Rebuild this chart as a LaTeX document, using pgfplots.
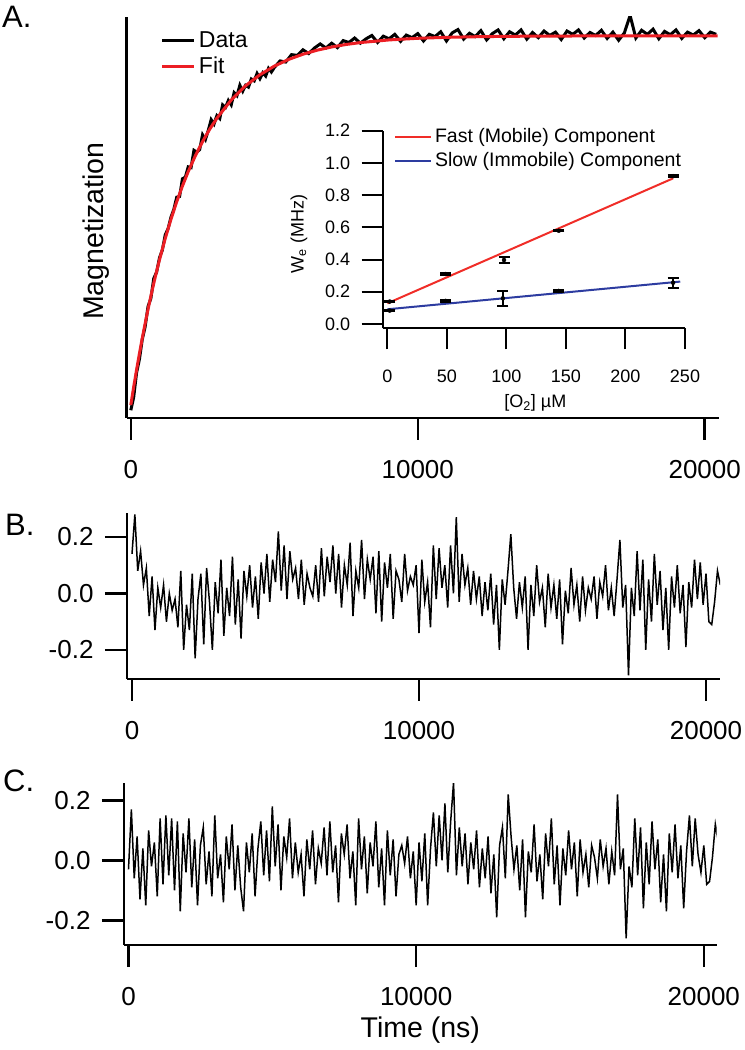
\documentclass[border=0pt]{standalone}
\usepackage{pgfplots}
\pgfplotsset{compat=1.18}
\usepackage{fontspec}
\setmainfont{Liberation Sans}
\definecolor{fitred}{RGB}{236,30,36}
\definecolor{lred}{RGB}{240,45,40}
\definecolor{lblue}{RGB}{45,60,160}
\newcommand\tickfont{\fontsize{26bp}{30bp}\selectfont}
\newcommand\labfont{\fontsize{28.5bp}{34bp}\selectfont}
\newcommand\legfont{\fontsize{23bp}{27bp}\selectfont}
\newcommand\insfont{\fontsize{18bp}{21bp}\selectfont}
\newcommand\inslegfont{\fontsize{19.5bp}{23bp}\selectfont}
\newcommand\letfont{\fontsize{31bp}{36bp}\selectfont}
\pgfplotsset{
  igor/.style={
    scale only axis,
    axis x line*=bottom, axis y line*=left,
    x axis line style={-, line width=2.5bp},
    y axis line style={-, line width=2.5bp},
    tick align=outside, major tick length=22bp,
    tick style={line width=2.5bp, black},
    tick label style={font=\tickfont},
    label style={font=\labfont},
    scaled x ticks=false, scaled y ticks=false,
    xticklabel shift=17bp, yticklabel shift=8bp,
  },
}
\begin{document}
\begin{tikzpicture}
\path[use as bounding box] (0,0) rectangle (745bp,1050bp);
% ---------------- Panel A ----------------
\begin{axis}[igor,
  at={(126.5bp,632bp)}, anchor=south west,
  width=592bp, height=401bp,
  xmin=-150, xmax=20480, ymin=-0.035, ymax=1.051,
  xtick={0,10000,20000}, xticklabels={0,10000,20000},
  ytick=\empty,
  ylabel={Magnetization},
  ylabel style={at={(axis description cs:-0.051,0.466)}, anchor=center},
  legend style={at={(axis description cs:0.052,0.975)}, anchor=north west,
    draw=none, fill=none, font=\legfont, row sep=3bp,
    nodes={inner ysep=1bp, inner xsep=3bp, text height=17bp, text depth=4bp}},
  legend cell align=left,
  legend image code/.code={\draw[#1, line width=3.5bp] (0bp,0bp) -- (32bp,0bp);},
]
\addplot[black, line width=3bp] coordinates {
(0,-0.014) (100,0.021) (200,0.087) (300,0.124) (400,0.178) (500,0.212) (600,0.267) (700,0.289) (800,0.343) (900,0.360)
(1000,0.399) (1100,0.420) (1200,0.461) (1300,0.478) (1400,0.509) (1500,0.530) (1600,0.563) (1700,0.565) (1800,0.613) (1900,0.617)
(2000,0.645) (2100,0.643) (2200,0.690) (2300,0.685) (2400,0.692) (2500,0.732) (2600,0.719) (2700,0.744) (2800,0.773) (2900,0.761)
(3000,0.784) (3100,0.776) (3200,0.813) (3300,0.806) (3400,0.825) (3500,0.813) (3600,0.846) (3700,0.838) (3800,0.866) (3900,0.850)
(4000,0.866) (4100,0.861) (4200,0.883) (4300,0.878) (4400,0.898) (4500,0.884) (4600,0.900) (4700,0.891) (4800,0.912) (4900,0.902)
(5000,0.914) (5200,0.932) (5400,0.929) (5600,0.949) (5800,0.947) (6000,0.962) (6200,0.952) (6400,0.967) (6600,0.978) (6800,0.967)
(7000,0.980) (7200,0.968) (7400,0.987) (7600,0.982) (7800,0.994) (8000,0.980) (8200,0.992) (8400,1.001) (8600,0.982) (8800,0.999)
(9000,0.992) (9200,1.004) (9400,0.985) (9600,1.002) (9800,0.995) (10000,1.006) (10200,0.986) (10400,1.004) (10600,0.998) (10800,1.011)
(11000,0.986) (11200,1.008) (11400,1.017) (11600,0.991) (11800,1.007) (12000,0.998) (12200,1.014) (12400,0.989) (12600,1.006) (12800,1.016)
(13000,0.992) (13200,1.011) (13400,1.002) (13600,1.016) (13800,0.991) (14000,1.009) (14200,0.995) (14400,1.013) (14600,1.001) (14800,1.010)
(15000,0.990) (15200,1.013) (15400,1.004) (15600,1.016) (15800,0.994) (16000,1.009) (16200,1.001) (16400,1.015) (16600,0.993) (16800,1.010)
(17000,0.988) (17200,1.008) (17400,1.055) (17600,0.994) (17800,1.015) (18000,1.004) (18200,1.018) (18400,0.992) (18600,1.012) (18800,1.003)
(19000,1.016) (19200,0.993) (19400,1.010) (19600,1.002) (19800,1.014) (20000,0.995) (20200,1.010) (20400,1.004)
};
\addlegendentry{Data}
\addplot[fitred, line width=3bp] coordinates {
(0,0) (100,0.0488) (200,0.0952) (300,0.1393) (400,0.1813) (500,0.2212) (600,0.2592) (700,0.2953) (800,0.3297) (900,0.3624)
(1000,0.3935) (1200,0.4512) (1400,0.5034) (1600,0.5507) (1800,0.5934) (2000,0.6321) (2250,0.6753) (2500,0.7135) (2750,0.7472)
(3000,0.7769) (3500,0.8262) (4000,0.8647) (4500,0.8946) (5000,0.9179) (5500,0.9361) (6000,0.9502) (6500,0.9612) (7000,0.9698)
(7500,0.9765) (8000,0.9817) (9000,0.9889) (10000,0.9933) (11000,0.9959) (12000,0.9975) (13000,0.9985) (14000,0.9991)
(16000,0.9997) (18000,0.9999) (20450,1.0)
};
\addlegendentry{Fit}
\end{axis}
% ---------------- Inset ----------------
\begin{axis}[scale only axis,
  at={(382.7bp,721.7bp)}, anchor=south west,
  width=302.3bp, height=197.6bp,
  xmin=-3.9, xmax=250, ymin=-0.027, ymax=1.2,
  axis x line*=bottom, axis y line*=left,
  x axis line style={-, line width=2bp},
  y axis line style={-, line width=2bp},
  tick align=outside, major tick length=21bp,
  tick style={line width=2bp, black},
  tick label style={font=\insfont},
  label style={font=\insfont},
  xticklabel shift=17bp, yticklabel shift=8bp,
  xtick={0,50,100,150,200,250}, xticklabels={0,50,100,150,200,250},
  ytick={0,0.2,0.4,0.6,0.8,1.0,1.2}, yticklabels={0.0,0.2,0.4,0.6,0.8,1.0,1.2},
  xlabel={[O\textsubscript{2}] µM},
  xlabel style={at={(axis description cs:0.505,-0.378)}, anchor=center},
  ylabel={W\textsubscript{e} (MHz)},
  ylabel style={at={(axis description cs:-0.277,0.477)}, anchor=center},
  legend style={at={(axis description cs:0.027,1.03)}, anchor=north west,
    draw=none, fill=none, font=\inslegfont, row sep=3.5bp,
    nodes={inner ysep=1bp, inner xsep=3bp, text height=14.5bp, text depth=4bp}},
  legend cell align=left,
  legend image code/.code={\draw[#1] (0bp,0bp) -- (36bp,0bp);},
]
\addplot[lred, line width=2bp] coordinates {(0,0.128) (240,0.904)};
\addlegendentry{Fast (Mobile) Component}
\addplot[lblue, line width=2bp] coordinates {(0,0.091) (246,0.263)};
\addlegendentry{Slow (Immobile) Component}
\addplot[black, only marks, mark=none, forget plot,
  error bars/.cd, y dir=both, y explicit,
  error bar style={line width=2bp, black},
  error mark options={rotate=90, line width=2bp, mark size=5.5bp, black}]
  coordinates {
  (2,0.139) +- (0,0.004)
  (49,0.310) +- (0,0.004)
  (98,0.397) +- (0,0.02)
  (144,0.579) +- (0,0.004)
  (240,0.918) +- (0,0.006)
  };
\addplot[black, only marks, mark=none, forget plot,
  error bars/.cd, y dir=both, y explicit,
  error bar style={line width=2bp, black},
  error mark options={rotate=90, line width=2bp, mark size=5.5bp, black}]
  coordinates {
  (2,0.083) +- (0,0.004)
  (49,0.143) +- (0,0.004)
  (97,0.159) +- (0,0.045)
  (144,0.205) +- (0,0.004)
  (240,0.256) +- (0,0.03)
  };
\end{axis}
% ---------------- Panel B ----------------
\begin{axis}[igor,
  at={(127bp,371bp)}, anchor=south west,
  width=593bp, height=166bp,
  xmin=-174, xmax=20488, ymin=-0.303, ymax=0.285,
  xtick={0,10000,20000}, xticklabels={0,10000,20000},
  ytick={-0.2,0,0.2}, yticklabels={-0.2,0.0,0.2},
]
\addplot[black, line width=1.5bp] coordinates {
(0,0.14) (100,0.28) (200,0.08) (300,0.15) (400,0.03) (500,0.09) (600,-0.08) (700,0.06) (800,-0.13) (900,0.02)
(1000,-0.05) (1100,0.03) (1200,-0.10) (1300,0.00) (1400,-0.06) (1500,-0.02) (1600,-0.12) (1700,0.08) (1800,-0.20) (1900,-0.04)
(2000,-0.13) (2100,0.07) (2200,-0.23) (2300,-0.02) (2400,0.07) (2500,-0.18) (2600,0.09) (2700,-0.03) (2800,-0.20) (2900,0.04)
(3000,-0.07) (3100,0.12) (3200,-0.15) (3300,0.02) (3400,-0.08) (3500,0.13) (3600,-0.11) (3700,0.05) (3800,-0.16) (3900,0.08)
(4000,-0.01) (4100,0.10) (4200,-0.05) (4300,0.06) (4400,-0.09) (4500,0.11) (4600,0.00) (4700,0.14) (4800,-0.03) (4900,0.12)
(5000,0.04) (5100,0.22) (5200,0.01) (5300,0.17) (5400,-0.02) (5500,0.15) (5600,0.05) (5700,0.09) (5800,-0.02) (5900,0.12)
(6000,-0.04) (6100,0.07) (6200,0.02) (6300,-0.01) (6400,0.10) (6500,-0.03) (6600,0.16) (6700,-0.01) (6800,0.13) (6900,0.04)
(7000,0.17) (7100,0.00) (7200,0.14) (7300,-0.05) (7400,0.10) (7500,0.03) (7600,0.18) (7700,-0.08) (7800,0.08) (7900,0.02)
(8000,0.19) (8100,-0.02) (8200,0.12) (8300,0.05) (8400,0.13) (8500,-0.07) (8600,0.15) (8700,-0.10) (8800,0.11) (8900,0.02)
(9000,0.14) (9100,-0.09) (9200,0.08) (9300,0.05) (9400,-0.03) (9500,0.14) (9600,0.01) (9700,0.06) (9800,0.03) (9900,0.10)
(10000,-0.14) (10100,0.12) (10200,-0.03) (10300,0.04) (10400,-0.12) (10500,0.17) (10600,-0.02) (10700,0.16) (10800,0.02) (10900,0.10)
(11000,-0.05) (11100,0.17) (11200,0.00) (11300,0.27) (11400,-0.03) (11500,0.14) (11600,0.03) (11700,0.09) (11800,-0.04) (11900,0.08)
(12000,-0.02) (12100,0.06) (12200,-0.08) (12300,0.04) (12400,-0.06) (12500,0.07) (12600,-0.11) (12700,0.03) (12800,-0.20) (12900,0.05)
(13000,-0.04) (13100,0.08) (13200,0.21) (13300,0.02) (13400,-0.09) (13500,0.04) (13600,-0.05) (13700,0.06) (13800,-0.20) (13900,0.03)
(14000,-0.08) (14100,0.10) (14200,-0.03) (14300,0.02) (14400,-0.12) (14500,0.07) (14600,-0.05) (14700,0.03) (14800,-0.09) (14900,0.05)
(15000,-0.18) (15100,0.01) (15200,-0.07) (15300,0.09) (15400,-0.04) (15500,0.03) (15600,-0.10) (15700,0.06) (15800,-0.06) (15900,0.02)
(16000,-0.02) (16100,0.06) (16200,-0.09) (16300,0.04) (16400,-0.01) (16500,0.10) (16600,-0.06) (16700,0.02) (16800,-0.08) (16900,0.05)
(17000,0.19) (17100,-0.05) (17200,0.03) (17300,-0.29) (17400,0.02) (17500,-0.08) (17600,0.15) (17700,-0.06) (17800,0.12) (17900,-0.20)
(18000,0.05) (18100,-0.10) (18200,0.14) (18300,-0.04) (18400,0.08) (18500,-0.13) (18600,0.02) (18700,-0.20) (18800,0.06) (18900,-0.05)
(19000,0.10) (19100,-0.07) (19200,0.03) (19300,-0.19) (19400,0.04) (19500,-0.05) (19600,0.12) (19700,-0.02) (19800,0.11) (19900,-0.04)
(20000,0.07) (20100,-0.10) (20200,-0.11) (20300,-0.03) (20400,0.08) (20500,0.03)
};
\end{axis}
% ---------------- Panel C ----------------
\begin{axis}[igor,
  at={(124bp,105bp)}, anchor=south west,
  width=592.7bp, height=162bp,
  xmin=-156, xmax=20448, ymin=-0.282, ymax=0.258,
  xtick={0,10000,20000}, xticklabels={0,10000,20000},
  ytick={-0.2,0,0.2}, yticklabels={-0.2,0.0,0.2},
  xlabel={Time (ns)},
  xlabel style={at={(axis description cs:0.5,-0.525)}, anchor=center},
]
\addplot[black, line width=1.5bp] coordinates {
(0,-0.03) (100,0.17) (200,-0.06) (300,0.08) (400,-0.13) (500,0.04) (600,-0.15) (700,0.10) (800,-0.02) (900,0.06)
(1000,-0.12) (1100,0.14) (1200,-0.08) (1300,0.15) (1400,-0.05) (1500,0.14) (1600,-0.10) (1700,0.13) (1800,-0.17) (1900,0.09)
(2000,-0.04) (2100,0.14) (2200,-0.09) (2300,0.07) (2400,-0.15) (2500,0.05) (2600,0.11) (2700,-0.08) (2800,0.03) (2900,-0.12)
(3000,0.15) (3100,-0.06) (3200,0.02) (3300,-0.14) (3400,0.08) (3500,-0.03) (3600,0.12) (3700,-0.10) (3800,0.05) (3900,-0.09)
(4000,-0.17) (4100,0.06) (4200,-0.04) (4300,0.09) (4400,-0.12) (4500,0.04) (4600,0.13) (4700,-0.05) (4800,0.10) (4900,-0.07)
(5000,0.18) (5100,-0.02) (5200,0.12) (5300,-0.10) (5400,0.08) (5500,0.01) (5600,0.14) (5700,-0.06) (5800,0.06) (5900,-0.04)
(6000,0.02) (6100,-0.12) (6200,0.07) (6300,-0.03) (6400,0.10) (6500,-0.08) (6600,0.04) (6700,-0.01) (6800,0.11) (6900,-0.05)
(7000,0.13) (7100,-0.04) (7200,0.05) (7300,-0.14) (7400,0.09) (7500,0.02) (7600,0.12) (7700,-0.06) (7800,0.03) (7900,-0.15)
(8000,0.14) (8100,-0.03) (8200,0.08) (8300,-0.11) (8400,0.06) (8500,-0.02) (8600,0.13) (8700,-0.09) (8800,0.04) (8900,-0.15)
(9000,0.10) (9100,-0.05) (9200,0.07) (9300,-0.12) (9400,0.02) (9500,0.05) (9600,-0.01) (9700,0.08) (9800,-0.06) (9900,0.03)
(10000,-0.15) (10100,0.06) (10200,-0.07) (10300,0.09) (10400,-0.15) (10500,0.04) (10600,0.16) (10700,-0.02) (10800,0.15) (10900,0.00)
(11000,0.19) (11100,-0.04) (11200,0.13) (11300,0.26) (11400,-0.05) (11500,0.11) (11600,-0.02) (11700,0.09) (11800,-0.08) (11900,0.06)
(12000,-0.03) (12100,0.10) (12200,-0.09) (12300,0.04) (12400,-0.06) (12500,0.08) (12600,-0.11) (12700,0.02) (12800,-0.19) (12900,0.05)
(13000,0.11) (13100,-0.06) (13200,0.22) (13300,0.08) (13400,-0.03) (13500,0.05) (13600,-0.10) (13700,0.07) (13800,-0.19) (13900,0.03)
(14000,-0.04) (14100,0.12) (14200,-0.07) (14300,0.02) (14400,-0.13) (14500,0.09) (14600,-0.02) (14700,0.14) (14800,-0.08) (14900,0.05)
(15000,-0.15) (15100,0.04) (15200,-0.05) (15300,0.10) (15400,-0.03) (15500,0.06) (15600,-0.12) (15700,0.07) (15800,-0.04) (15900,0.02)
(16000,-0.09) (16100,0.05) (16200,0.01) (16300,-0.06) (16400,0.07) (16500,-0.02) (16600,0.04) (16700,-0.08) (16800,0.03) (16900,-0.05)
(17000,0.22) (17100,-0.03) (17200,0.04) (17300,-0.26) (17400,-0.02) (17500,-0.09) (17600,0.14) (17700,-0.05) (17800,0.11) (17900,-0.16)
(18000,0.06) (18100,-0.08) (18200,0.13) (18300,-0.03) (18400,0.07) (18500,-0.14) (18600,0.02) (18700,-0.17) (18800,0.09) (18900,-0.04)
(19000,0.12) (19100,-0.06) (19200,0.05) (19300,-0.16) (19400,0.03) (19500,0.15) (19600,-0.02) (19700,0.14) (19800,0.02) (19900,-0.04)
(20000,0.05) (20100,-0.08) (20200,-0.07) (20300,0.01) (20400,0.12) (20500,0.06)
};
\end{axis}
% panel letters
\node[anchor=west, inner sep=0pt, font=\letfont] at (2bp,1033bp) {A.};
\node[anchor=west, inner sep=0pt, font=\letfont] at (5bp,525bp) {B.};
\node[anchor=west, inner sep=0pt, font=\letfont] at (3bp,269bp) {C.};
\end{tikzpicture}
\end{document}
